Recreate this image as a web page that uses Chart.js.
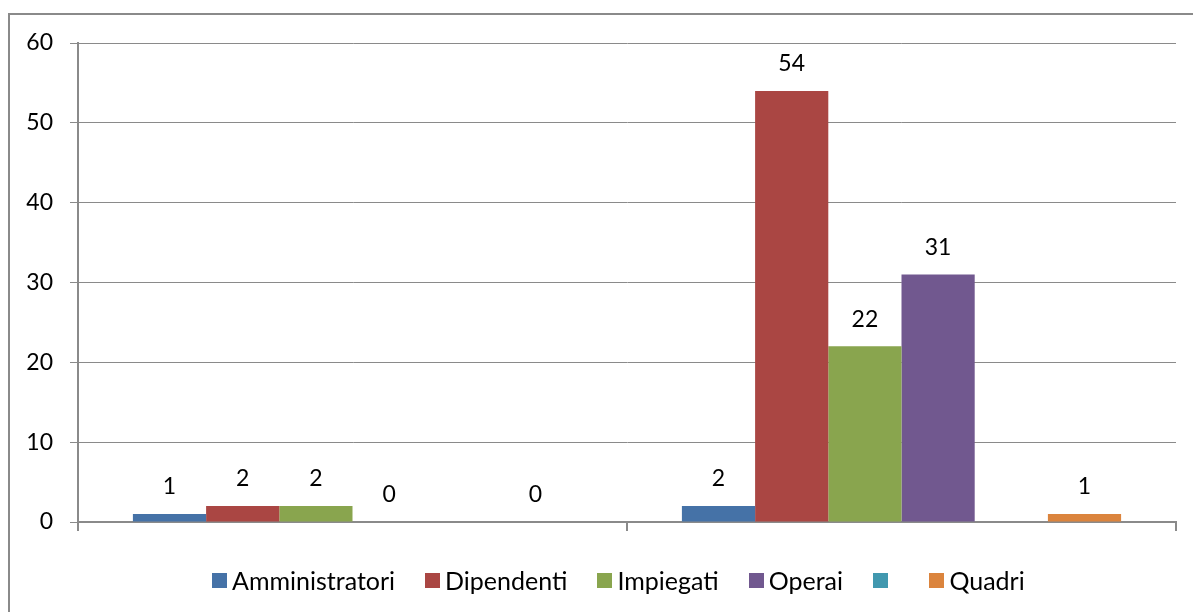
<!DOCTYPE html>
<html>
<head>
<meta charset="utf-8">
<script src="https://cdn.jsdelivr.net/npm/chart.js@4/dist/chart.umd.min.js"></script>
<style>
  body { margin: 0; background: #fff; }
  #wrap { position: relative; width: 1193px; height: 612px; overflow: hidden; }
  #frame { position: absolute; left: 8px; top: 13px; width: 1300px; height: 700px;
           border-left: 2px solid #8a8a8a; border-top: 2px solid #8a8a8a; }
  #chart { position: absolute; left: 0; top: 0; }
  #legend { position: absolute; left: 212px; top: 565px; height: 30px; display: flex; align-items: center;
            font-family: Lato, sans-serif; font-size: 25px; line-height: 30px; color: #000; }
  .item { display: flex; align-items: center; margin-right: 30px; white-space: pre; }
  .box { width: 15px; height: 15px; margin-right: 5px; }
</style>
</head>
<body>
<div id="wrap">
  <div id="frame"></div>
  <canvas id="chart" width="1193" height="612"></canvas>
  <div id="legend"></div>
</div>
<script>
const categories = ["", ""];
const seriesNames = ["Amministratori", "Dipendenti", "Impiegati", "Operai", " ", "Quadri"];
const seriesColors = ["#4572A7", "#AA4643", "#89A54E", "#71588F", "#4198AF", "#DB843D"];
const amministratori = [1, 2];
const dipendenti = [2, 54];
const impiegati = [2, 22];
const operai = [0, 31];
const vuoto = [null, null];
const quadri = [0, 1];
const yTicks = [0, 10, 20, 30, 40, 50, 60];

const seriesValues = [amministratori, dipendenti, impiegati, operai, vuoto, quadri];
const gridColor = "#8a8a8a";

// data labels above each bar
const valueLabels = {
    id: "valueLabels",
    afterDatasetsDraw(chart) {
        const ctx = chart.ctx;
        ctx.save();
        ctx.font = "23px Lato";
        ctx.fillStyle = "#000";
        ctx.textAlign = "center";
        ctx.textBaseline = "middle";
        chart.data.datasets.forEach((ds, i) => {
            chart.getDatasetMeta(i).data.forEach((bar, j) => {
                const v = ds.data[j];
                if (v === null) return;
                ctx.fillText(String(v), bar.x, bar.y - 27);
            });
        });
        ctx.restore();
    }
};

new Chart(document.getElementById("chart"), {
    type: "bar",
    data: {
        labels: categories,
        datasets: seriesNames.map((name, i) => ({
            label: name,
            data: seriesValues[i],
            backgroundColor: seriesColors[i],
            borderWidth: 0,
            categoryPercentage: 0.8,
            barPercentage: 1.0
        }))
    },
    options: {
        responsive: false,
        animation: false,
        layout: { padding: { left: 0, top: 43, right: 17, bottom: 81 } },
        plugins: {
            legend: { display: false },
            tooltip: { enabled: false }
        },
        scales: {
            x: {
                offset: true,
                grid: { offset: true, drawOnChartArea: false, drawTicks: true, tickLength: 9, color: gridColor, lineWidth: 2 },
                border: { display: true, color: gridColor, width: 2 },
                ticks: { display: false },
                afterFit: (s) => { s.height = 9; }
            },
            y: {
                min: 0,
                max: 60,
                afterBuildTicks: (s) => { s.ticks = yTicks.map(v => ({ value: v })); },
                grid: { color: gridColor, lineWidth: 1, tickLength: 8 },
                border: { display: true, color: gridColor, width: 2 },
                ticks: { color: "#000", padding: 17, font: { family: "Lato", size: 23 } },
                afterFit: (s) => { s.width = 78; }
            }
        }
    },
    plugins: [valueLabels]
});

// legend
const legend = document.getElementById("legend");
seriesNames.forEach((name, i) => {
    const item = document.createElement("div");
    item.className = "item";
    item.innerHTML = `<span class="box" style="background:${seriesColors[i]}"></span><span>${name}</span>`;
    legend.appendChild(item);
});
</script>
</body>
</html>
